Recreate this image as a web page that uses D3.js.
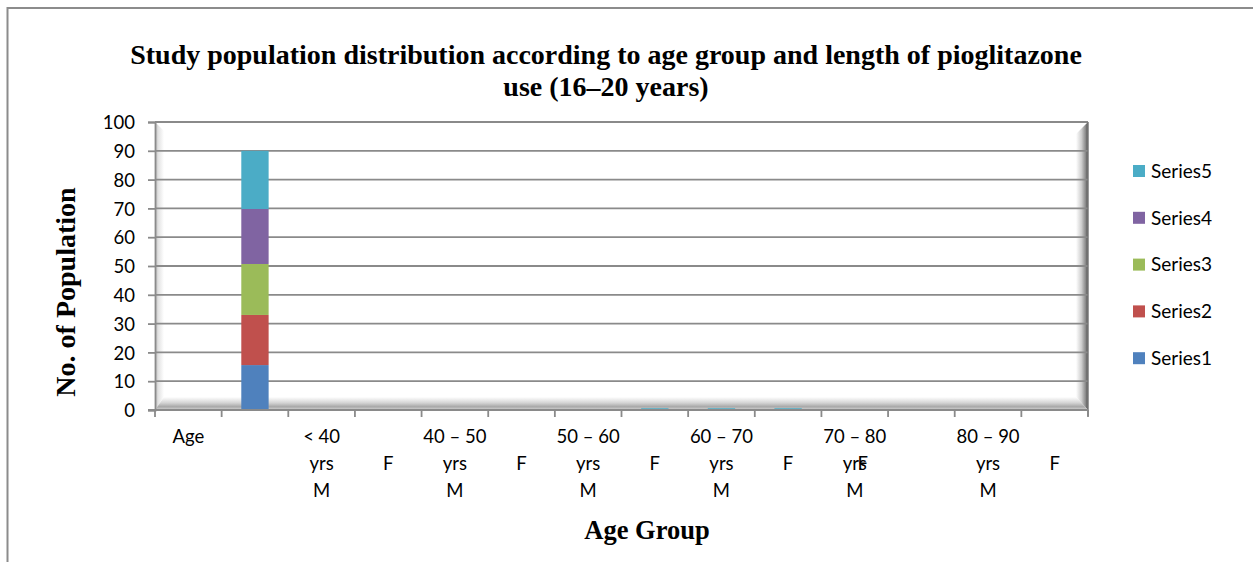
<!DOCTYPE html>
<html>
<head>
<meta charset="utf-8">
<script src="https://cdn.jsdelivr.net/npm/d3@7"></script>
<style>
  html, body { margin: 0; padding: 0; background: #ffffff; }
  svg { display: block; }
</style>
</head>
<body>
<svg id="chart" width="1253" height="562"></svg>
<script>
// ---- data ----
const categoryLabels = [
  ["Age"], [""], ["< 40", "yrs", "M"], ["", "F"], ["40 – 50", "yrs", "M"], ["", "F"],
  ["50 – 60", "yrs", "M"], ["", "F"], ["60 – 70", "yrs", "M"], ["", "F"],
  ["70 – 80", "yrs", "M"], [""], ["80 – 90", "yrs", "M"], ["", "F"]
];
const categories = categoryLabels.map((d, i) => "c" + i);
const seriesNames = ["Series1", "Series2", "Series3", "Series4", "Series5"];
const series1 = [0, 15.6, 0, 0, 0, 0, 0, 0, 0, 0, 0, 0, 0, 0];
const series2 = [0, 17.4, 0, 0, 0, 0, 0, 0, 0, 0, 0, 0, 0, 0];
const series3 = [0, 17.7, 0, 0, 0, 0, 0, 0, 0, 0, 0, 0, 0, 0];
const series4 = [0, 19.1, 0, 0, 0, 0, 0, 0, 0, 0, 0, 0, 0, 0];
const series5 = [0, 20.2, 0, 0, 0, 0, 0, 0.6, 0.6, 0.6, 0, 0, 0, 0];
const seriesColors = ["#4F81BD", "#C0504D", "#9BBB59", "#8064A2", "#4BACC6"];
const yTicks = [0, 10, 20, 30, 40, 50, 60, 70, 80, 90, 100];
// an extra "F" that the category axis prints on top of the 70 – 80 label
const strayLabels = [{ category: 10, line: 1, text: "F" }];
const titleLines = [
  "Study population distribution according to age group and length of pioglitazone",
  "use (16–20 years)"
];
const yTitle = "No. of Population";
const xTitle = "Age Group";

// ---- layout ----
const svg = d3.select("#chart");
const plot = { left: 155, right: 1088, top: 122, bottom: 410 };
const labelFont = "Lato, 'Open Sans', sans-serif";
const titleFont = "'Liberation Serif', 'Times New Roman', serif";
const gridColor = "#8a8a8a";

const x = d3.scaleBand().domain(categories).range([plot.left, plot.right])
  .paddingInner(0.59).paddingOuter(0.295);
const y = d3.scaleLinear().domain([0, 100]).range([plot.bottom, plot.top]);

const table = categories.map((c, i) => ({
  cat: c, Series1: series1[i], Series2: series2[i], Series3: series3[i],
  Series4: series4[i], Series5: series5[i]
}));
const stacked = d3.stack().keys(seriesNames)(table);

// outer chart frame (only top and left edges fall inside the view)
svg.append("rect").attr("x", 7.5).attr("y", 8).attr("width", 1300).attr("height", 600)
  .attr("fill", "none").attr("stroke", "#8c8c8c").attr("stroke-width", 2);

// title
svg.append("g").selectAll("text").data(titleLines).join("text")
  .attr("x", 606).attr("y", (d, i) => 64 + i * 32)
  .attr("text-anchor", "middle")
  .attr("font-family", titleFont).attr("font-weight", "bold").attr("font-size", 28)
  .attr("fill", "#000").text(d => d);

// ---- plot area with bevelled edges ----
const defs = svg.append("defs");
function grad(id, x1, y1, x2, y2, stops) {
  const g = defs.append("linearGradient").attr("id", id)
    .attr("x1", x1).attr("y1", y1).attr("x2", x2).attr("y2", y2);
  stops.forEach(s => g.append("stop").attr("offset", s[0]).attr("stop-color", s[1]));
}
grad("leftBevel", 0, 0, 1, 0, [[0, "#bdbdbd"], [0.4, "#e4e4e4"], [1, "#ffffff"]]);
grad("rightBevel", 0, 0, 1, 0, [[0, "#ffffff"], [0.45, "#cfcfcf"], [0.8, "#8a8a8a"], [1, "#4a4a4a"]]);
grad("floorBevel", 0, 0, 0, 1, [[0, "#ffffff"], [0.45, "#d4d4d4"], [0.75, "#a8a8a8"], [1, "#d8d8d8"]]);

const pa = svg.append("g");
pa.append("rect").attr("x", plot.left).attr("y", plot.top)
  .attr("width", plot.right - plot.left).attr("height", plot.bottom - plot.top).attr("fill", "#fff");
const bL = 9, bR = 12, bB = 13;
pa.append("polygon").attr("fill", "url(#leftBevel)")
  .attr("points", [[plot.left, plot.top], [plot.left + bL, plot.top + bL], [plot.left + bL, plot.bottom - bB], [plot.left, plot.bottom]].join(" "));
pa.append("polygon").attr("fill", "url(#rightBevel)")
  .attr("points", [[plot.right, plot.top], [plot.right, plot.bottom], [plot.right - bR, plot.bottom - bB], [plot.right - bR, plot.top + bR]].join(" "));
pa.append("polygon").attr("fill", "url(#floorBevel)")
  .attr("points", [[plot.left, plot.bottom], [plot.left + bL, plot.bottom - bB], [plot.right - bR, plot.bottom - bB], [plot.right, plot.bottom]].join(" "));

// gridlines
svg.append("g").selectAll("line").data(yTicks.filter(t => t > 0)).join("line")
  .attr("x1", plot.left).attr("x2", plot.right)
  .attr("y1", d => y(d)).attr("y2", d => y(d))
  .attr("stroke", gridColor).attr("stroke-width", 1.8);
// right frame edge
svg.append("line").attr("x1", plot.right).attr("x2", plot.right)
  .attr("y1", plot.top).attr("y2", plot.bottom + 6)
  .attr("stroke", "#7a7a7a").attr("stroke-width", 1.5);

// bars
svg.append("g").selectAll("g").data(stacked).join("g")
  .attr("fill", (d, i) => seriesColors[i])
  .selectAll("rect").data(d => d.filter(p => p[1] - p[0] > 0)).join("rect")
  .attr("x", d => x(d.data.cat)).attr("width", x.bandwidth())
  .attr("y", d => y(d[1])).attr("height", d => y(d[0]) - y(d[1]));

// y axis
const yAxis = svg.append("g").attr("transform", `translate(${plot.left},0)`)
  .call(d3.axisLeft(y).tickValues(yTicks).tickSize(7).tickPadding(13));
yAxis.select(".domain").attr("stroke", gridColor).attr("stroke-width", 1.8);
yAxis.selectAll(".tick line").attr("stroke", gridColor).attr("stroke-width", 1.8);
yAxis.selectAll(".tick text").attr("font-family", labelFont).attr("font-size", 18.5)
  .attr("fill", "#000").attr("dy", "0.36em");

// x axis: ticks at category boundaries
const step = x.step();
const boundaries = d3.range(categories.length + 1).map(i => plot.left + i * step);
svg.append("line").attr("x1", plot.left - 7).attr("x2", plot.right)
  .attr("y1", plot.bottom).attr("y2", plot.bottom)
  .attr("stroke", gridColor).attr("stroke-width", 1.8);
svg.append("g").selectAll("line").data(boundaries).join("line")
  .attr("x1", d => d).attr("x2", d => d)
  .attr("y1", plot.bottom).attr("y2", plot.bottom + 7)
  .attr("stroke", gridColor).attr("stroke-width", 1.8);

// x category labels (multi-line)
const lineY0 = 443, lineH = 27;
const xl = svg.append("g").attr("font-family", labelFont).attr("font-size", 18.5)
  .attr("text-anchor", "middle").attr("fill", "#000");
categoryLabels.forEach((lines, i) => {
  const cx = x(categories[i]) + x.bandwidth() / 2;
  lines.forEach((t, j) => {
    if (t) xl.append("text").attr("x", cx).attr("y", lineY0 + j * lineH).text(t);
  });
});
strayLabels.forEach(s => {
  const cx = x(categories[s.category]) + x.bandwidth() / 2;
  xl.append("text").attr("x", cx + 8).attr("y", lineY0 + s.line * lineH).text(s.text);
});

// axis titles
svg.append("text").attr("transform", "translate(75,292) rotate(-90)")
  .attr("text-anchor", "middle").attr("font-family", titleFont)
  .attr("font-weight", "bold").attr("font-size", 28).text(yTitle);
svg.append("text").attr("x", 647).attr("y", 539)
  .attr("text-anchor", "middle").attr("font-family", titleFont)
  .attr("font-weight", "bold").attr("font-size", 26.5).text(xTitle);

// legend (Series5 at top)
const legendItems = seriesNames.map((n, i) => ({ name: n, color: seriesColors[i] })).reverse();
const lg = svg.append("g").selectAll("g").data(legendItems).join("g")
  .attr("transform", (d, i) => `translate(1133,${171 + i * 46.8})`);
lg.append("rect").attr("x", 0).attr("y", -6).attr("width", 12).attr("height", 12)
  .attr("fill", d => d.color);
lg.append("text").attr("x", 18).attr("y", 0).attr("dy", "0.36em")
  .attr("font-family", labelFont).attr("font-size", 19).attr("fill", "#000")
  .text(d => d.name);
</script>
</body>
</html>
